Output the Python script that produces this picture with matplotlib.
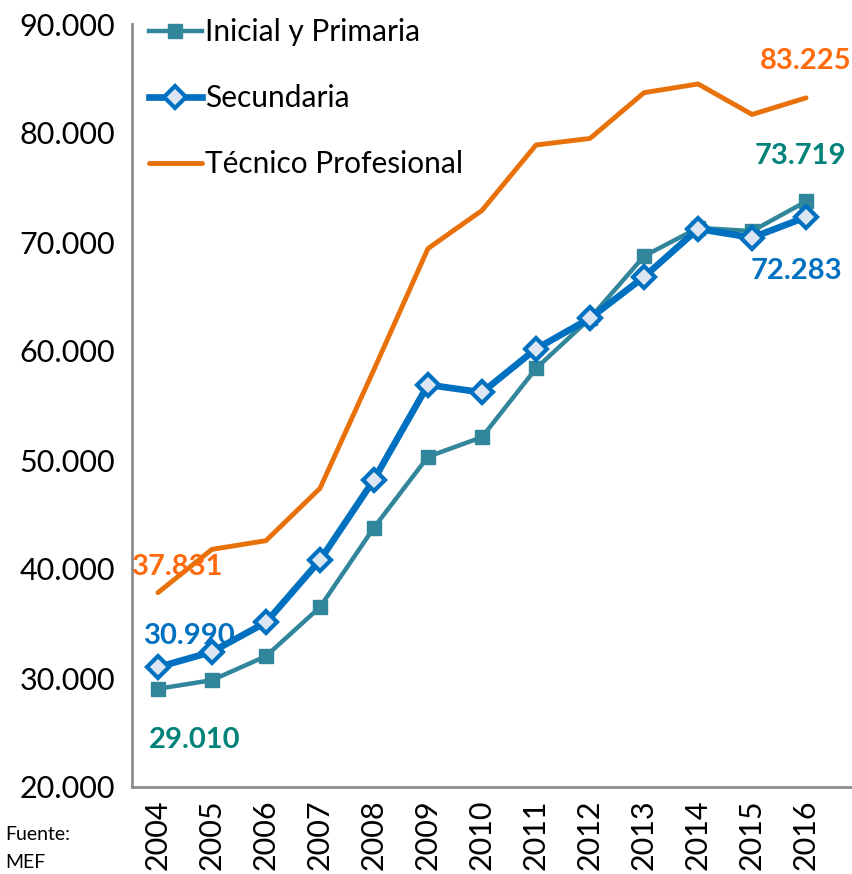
import matplotlib
matplotlib.use("Agg")
import matplotlib.pyplot as plt
from matplotlib.ticker import FuncFormatter, FixedLocator

years = [2004, 2005, 2006, 2007, 2008, 2009, 2010, 2011, 2012, 2013, 2014, 2015, 2016]
inicial = [29010, 29800, 32000, 36500, 43800, 50300, 52100, 58400, 63000, 68700, 71300, 71000, 73719]
secundaria = [30990, 32400, 35100, 40800, 48200, 56900, 56200, 60200, 63000, 66800, 71200, 70400, 72283]
tecnico = [37831, 41800, 42600, 47400, 58300, 69400, 72900, 78900, 79500, 83700, 84500, 81700, 83225]
yticks = [20000, 30000, 40000, 50000, 60000, 70000, 80000, 90000]

FONT = ["Lato", "DejaVu Sans"]
plt.rcParams['font.family'] = FONT

c_teal = "#31869B"
c_teal_lab = "#00827A"
c_blue = "#0070C0"
c_orange = "#E8710A"
c_orange_lab = "#FF6A0D"

fig = plt.figure(figsize=(8.52, 8.74), dpi=100)
ax = fig.add_axes([132/852, 1-787/874, 1-132/852, (787-24)/874])

ax.plot(years, inicial, color=c_teal, lw=3.2, marker="s", ms=10, mfc=c_teal, mec=c_teal,
        label="Inicial y Primaria", zorder=3)
ax.plot(years, secundaria, color=c_blue, lw=4.8, marker="D", ms=11, mfc="#DCE6F2", mec=c_blue,
        mew=3, label="Secundaria", zorder=4)
ax.plot(years, tecnico, color=c_orange, lw=3.5, label="Técnico Profesional", zorder=2,
        solid_capstyle="round")

ax.set_xlim(2003.52, 2016.85)
ax.set_ylim(20000, 90000)
ax.yaxis.set_major_locator(FixedLocator(yticks))
ax.yaxis.set_major_formatter(FuncFormatter(lambda v, p: f"{int(v):,}".replace(",", ".")))
ax.set_xticks(years)
ax.set_xticklabels([str(y) for y in years], rotation=90)
ax.tick_params(axis="both", length=0, labelsize=22, colors="black")
ax.tick_params(axis="y", pad=12)
ax.tick_params(axis="x", pad=9)
for s in ["top", "right"]:
    ax.spines[s].set_visible(False)
for s in ["left", "bottom"]:
    ax.spines[s].set_color("#8C8C8C")
    ax.spines[s].set_linewidth(2)

leg = ax.legend(loc="upper left", bbox_to_anchor=(-0.005, 1.035), frameon=False, fontsize=21.5,
                handlelength=1.75, handletextpad=0.1, labelspacing=1.27, borderaxespad=0.3)

def fmt(v):
    return f"{v:,}".replace(",", ".")

bold = dict(fontsize=21, fontweight="bold", ha="center", va="center")
ax.annotate(fmt(tecnico[0]), (years[0], tecnico[0]), xytext=(20, 26), textcoords="offset pixels", color=c_orange_lab, **bold)
ax.annotate(fmt(secundaria[0]), (years[0], secundaria[0]), xytext=(32, 31), textcoords="offset pixels", color=c_blue, **bold)
ax.annotate(fmt(inicial[0]), (years[0], inicial[0]), xytext=(37, -51), textcoords="offset pixels", color=c_teal_lab, **bold)
ax.annotate(fmt(tecnico[-1]), (years[-1], tecnico[-1]), xytext=(0, 37), textcoords="offset pixels", color=c_orange_lab, **bold)
ax.annotate(fmt(inicial[-1]), (years[-1], inicial[-1]), xytext=(-6, 45), textcoords="offset pixels", color=c_teal_lab, **bold)
ax.annotate(fmt(secundaria[-1]), (years[-1], secundaria[-1]), xytext=(-10, -54), textcoords="offset pixels", color=c_blue, **bold)

fig.text(5/852, 1-835/874, "Fuente:", fontsize=14, ha="left", va="center")
fig.text(5/852, 1-862/874, "MEF", fontsize=14, ha="left", va="center")

fig.savefig("out.png", dpi=100)
